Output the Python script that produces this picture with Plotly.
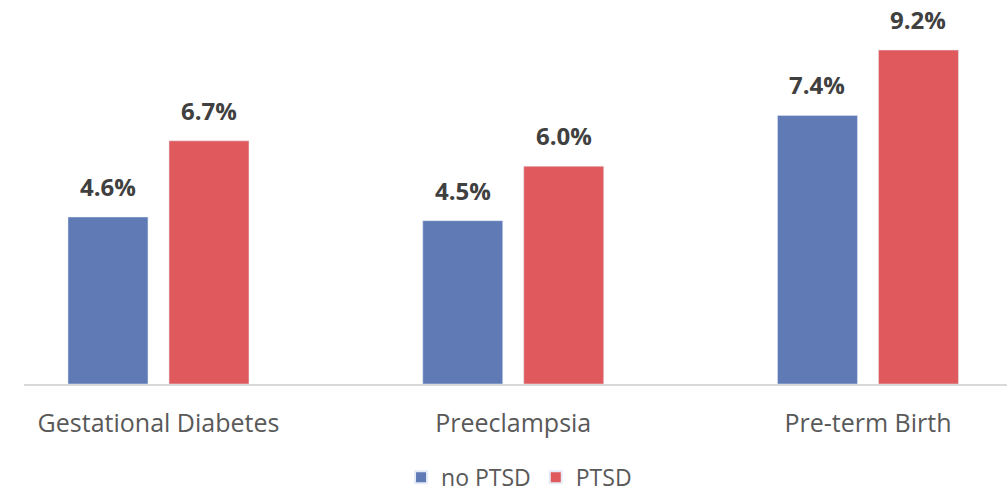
import plotly.graph_objects as go

categories = ["Gestational Diabetes", "Preeclampsia", "Pre-term Birth"]
no_ptsd = [4.6, 4.5, 7.4]
ptsd = [6.7, 6.0, 9.2]
series_names = ["no PTSD", "PTSD"]

BLUE = "#5f7ab5"
RED = "#e05a5d"
FONT = "Open Sans, Segoe UI, sans-serif"

fig = go.Figure()
fig.add_bar(x=categories, y=no_ptsd, name=series_names[0], marker_color=BLUE)
fig.add_bar(x=categories, y=ptsd, name=series_names[1], marker_color=RED)

# value labels above each bar
for vals, shift in ((no_ptsd, -50.5), (ptsd, 50.5)):
    for cat, v in zip(categories, vals):
        fig.add_annotation(
            x=cat, y=v, xref="x", yref="y",
            text=f"{v:.1f}%", showarrow=False,
            xshift=shift, yshift=12, yanchor="bottom",
            font=dict(family=FONT, size=24, color="#404040", weight="bold"),
        )

fig.update_layout(
    width=1007, height=496,
    margin=dict(l=24, r=0, t=0, b=112, autoexpand=False),
    paper_bgcolor="white", plot_bgcolor="white",
    barmode="group", bargap=0.4306, bargroupgap=0.208,
    showlegend=True,
    legend=dict(
        orientation="h", x=0.5036, xanchor="center", y=-0.243, yanchor="middle",
        font=dict(family=FONT, size=23, color="#595959"),
        itemwidth=30, itemsizing="constant",
        tracegroupgap=0,
    ),
    xaxis=dict(
        range=[-0.3791, 2.3919], showline=True, linecolor="#d9d9d9", linewidth=2,
        showgrid=False, ticks="", ticklabelstandoff=16,
        tickfont=dict(family=FONT, size=25, color="#595959"),
    ),
    yaxis=dict(range=[0, 10.579], visible=False, showgrid=False, zeroline=False),
)

fig.write_html("out.html")
